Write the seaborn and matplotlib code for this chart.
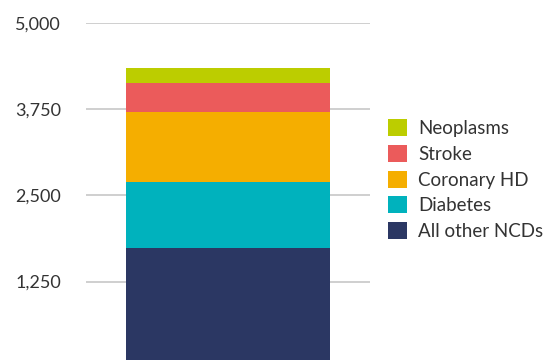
import matplotlib
matplotlib.use('Agg')
import matplotlib.pyplot as plt
from matplotlib.patches import Patch
import seaborn as sns
import pandas as pd

# Data
categories = ['All other NCDs', 'Diabetes', 'Coronary HD', 'Stroke', 'Neoplasms']
values = [1738, 958, 1016, 421, 217]
colors = ['#2b3763', '#00b2bd', '#f5ae00', '#eb5b5b', '#bccd00']
y_ticks = [1250, 2500, 3750, 5000]

sns.set_theme(style='white')
plt.rcParams['font.family'] = ['Lato', 'DejaVu Sans']

df = pd.DataFrame({'cause': categories, 'deaths': values})
df['cumulative'] = df['deaths'].cumsum()
df['group'] = 'NCD'

fig = plt.figure(figsize=(5.45, 3.6), dpi=100)
ax = fig.add_axes([0.158, -0.0217, 0.521, 0.958])

# Stacked bar: draw cumulative totals from the tallest down
for i in range(len(df) - 1, -1, -1):
    sns.barplot(x=[df['group'][i]], y=[df['cumulative'][i]], color=colors[i],
                width=0.718, saturation=1, linewidth=0, ax=ax, zorder=3)

ax.set_xlim(-0.5, 0.5)
ax.set_ylim(0, 5000)
ax.set_yticks(y_ticks)
ax.set_yticklabels([f'{t:,}' for t in y_ticks], fontsize=13, color='#333333')
ax.set_xticks([])
ax.set_xlabel('')
ax.set_ylabel('')
ax.tick_params(axis='y', length=0, pad=18)
ax.yaxis.grid(True, color='#cccccc', linewidth=1.3, zorder=0)
ax.set_axisbelow(True)
for s in ax.spines.values():
    s.set_visible(False)

handles = [Patch(facecolor=colors[i], edgecolor='none', label=categories[i])
           for i in range(len(categories) - 1, -1, -1)]
fig.legend(handles=handles, loc='center left', bbox_to_anchor=(0.712, 0.501),
           frameon=False, fontsize=13.5, handlelength=1.01, handleheight=1.01,
           handletextpad=0.59, labelspacing=0.42, borderpad=0, borderaxespad=0,
           labelcolor='#333333')

fig.savefig('out.png', dpi=100)
